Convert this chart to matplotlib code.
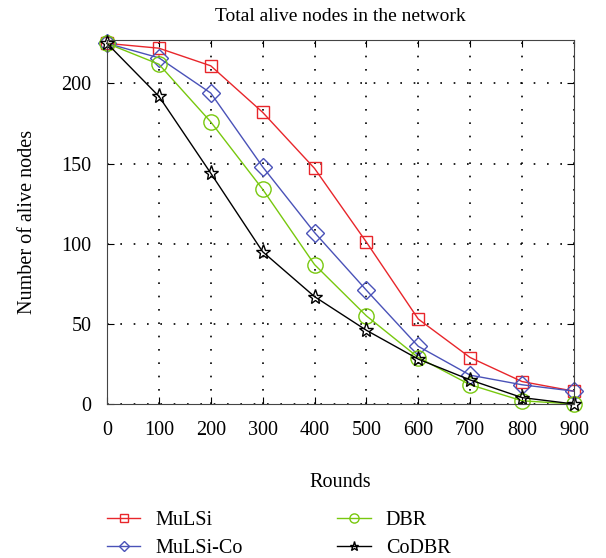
import matplotlib.pyplot as plt
import numpy as np

plt.rcParams['font.family'] = ['Liberation Serif', 'DejaVu Serif']

# Data
rounds = [0, 100, 200, 300, 400, 500, 600, 700, 800, 900]
mulsi = [225, 222, 211, 182, 147, 101, 53, 29, 14, 8]
mulsi_co = [225, 216, 194, 148, 107, 71, 36, 18, 12, 8]
dbr = [225, 212, 176, 134, 87, 55, 29, 12, 2, 0]
codbr = [225, 192, 144, 95, 67, 46, 28, 15, 4, 0]

fig = plt.figure(figsize=(6.06, 5.58), dpi=100)
ax = fig.add_axes([0.1766, 0.276, 0.7704, 0.652])

style = dict(mfc='none', mew=1.0, lw=1.0, clip_on=False)
ax.plot(rounds, mulsi, color='#e8262b', marker='s', ms=9, label='MuLSi', **style)
ax.plot(rounds, mulsi_co, color='#4a52b8', marker='D', ms=9, label='MuLSi-Co', **style)
ax.plot(rounds, dbr, color='#78c80e', marker='o', ms=11, label='DBR', **style)
ax.plot(rounds, codbr, color='black', marker='*', ms=11, label='CoDBR', **style)

ax.set_xlim(0, 900)
ax.set_ylim(0, 227)
ax.set_xticks(rounds)
ax.set_yticks([0, 50, 100, 150, 200])
ax.grid(True, color='black', linestyle=(0, (1, 7)), lw=1.2)
ax.tick_params(direction='in', top=True, right=True, labelsize=14.5, length=5)
ax.tick_params(axis='x', pad=12)
ax.tick_params(axis='y', pad=11)
for s in ax.spines.values():
    s.set_color('#444444')

ax.set_title('Total alive nodes in the network', fontsize=14, pad=14)
ax.set_xlabel('Rounds', fontsize=14.5, labelpad=24)
ax.set_ylabel('Number of alive nodes', fontsize=14.5, labelpad=18)

leg = fig.legend(loc='upper left', ncol=2, frameon=False,
                 fontsize=14.5, handlelength=1.65, handletextpad=0.75,
                 columnspacing=4.7, markerscale=0.6, labelspacing=0.45,
                 borderpad=0, borderaxespad=0)
leg.set_bbox_to_anchor((0.1766, 0.084), transform=fig.transFigure)

fig.savefig('out.png', dpi=100)
